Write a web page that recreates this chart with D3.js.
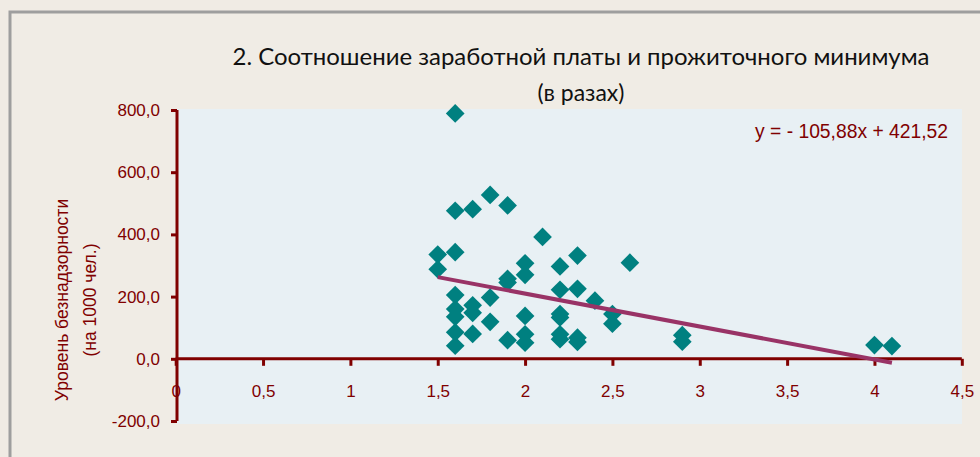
<!DOCTYPE html>
<html><head><meta charset="utf-8">
<script src="https://cdn.jsdelivr.net/npm/d3@7"></script>
<style>
html,body{margin:0;padding:0;background:#F0EBE4;}
svg{display:block;}
text{font-weight:400;}
</style></head>
<body><svg id="c" width="980" height="457"></svg>
<script>
const titleLines = ["2. Соотношение заработной платы и прожиточного минимума", "(в разах)"];
const yAxisTitle = ["Уровень безнадзорности", "(на 1000 чел.)"];
const xTicks = [0, 0.5, 1, 1.5, 2, 2.5, 3, 3.5, 4, 4.5];
const yTicks = [-200, 0, 200, 400, 600, 800];
const ratioX = [1.5,1.5, 1.6,1.6,1.6,1.6,1.6,1.6,1.6,1.6, 1.7,1.7,1.7,1.7, 1.8,1.8,1.8, 1.9,1.9,1.9,1.9,
  2.0,2.0,2.0,2.0,2.0, 2.1, 2.2,2.2,2.2,2.2,2.2,2.2, 2.3,2.3,2.3,2.3, 2.4, 2.5,2.5, 2.6, 2.9,2.9, 4.0, 4.1];
const neglectY = [335,288, 789,476,343,205,160,135,85,42, 481,172,148,80, 527,197,119, 493,257,245,60,
  307,270,138,79,52, 392, 297,222,144,133,79,63, 332,225,68,54, 187, 144,113, 309, 76,55, 44, 41];
const trendSlope = -105.88;
const trendIntercept = 421.52;
const trendRange = [1.5, 4.1];
const equationText = "y = - 105,88x + 421,52";

const svg = d3.select("#c");
const axisColor = "#800000";
const sans = "'Liberation Sans',Arial,sans-serif";

// outer frame
svg.append("rect").attr("x",10).attr("y",12).attr("width",1000).attr("height",500)
  .attr("fill","#F0ECE5").attr("stroke","#9E9E9E").attr("stroke-width",3);

const x = d3.scaleLinear().domain([0,4.5]).range([175.7,961.8]);
const y = d3.scaleLinear().domain([-200,800]).range([421,110]);

// plot background
svg.append("rect").attr("x",177).attr("y",109).attr("width",962-177).attr("height",424-109)
  .attr("fill","#E8F0F4");

// title
const t = svg.append("text").attr("text-anchor","middle").attr("font-family","Lato,'Open Sans',sans-serif")
  .attr("font-size",23).attr("fill","#111");
t.append("tspan").attr("x",581).attr("y",65).attr("textLength",697).attr("lengthAdjust","spacingAndGlyphs").text(titleLines[0]);
t.append("tspan").attr("x",581).attr("y",101).text(titleLines[1]);

// y-axis title
const yt = svg.append("text").attr("transform","translate(0,300) rotate(-90)")
  .attr("text-anchor","middle").attr("font-family",sans)
  .attr("font-size",17.5).attr("fill",axisColor);
yt.append("tspan").attr("x",0).attr("y",68).text(yAxisTitle[0]);
yt.append("tspan").attr("x",0).attr("y",96).text(yAxisTitle[1]);

const fmtY = d => d3.format(".1f")(d).replace(".",",").replace("−","-");
const fmtX = d => String(d).replace(".",",");

// y axis
const gy = svg.append("g").attr("transform","translate(177,0)")
  .call(d3.axisLeft(y).tickValues(yTicks).tickSize(6).tickPadding(11).tickFormat(fmtY));
gy.select(".domain").attr("stroke",axisColor).attr("stroke-width",3).attr("d","M0,"+y(800)+"V"+y(-200));
gy.selectAll(".tick line").attr("stroke",axisColor).attr("stroke-width",3);
gy.selectAll(".tick text").attr("fill",axisColor).attr("font-family",sans).attr("font-size",17);

// x axis at y=0
const gx = svg.append("g").attr("transform","translate(0,"+y(0)+")")
  .call(d3.axisBottom(x).tickValues(xTicks).tickSize(7).tickPadding(19).tickFormat(fmtX));
gx.select(".domain").attr("stroke",axisColor).attr("stroke-width",3).attr("d","M"+x(0)+",0H"+x(4.5));
gx.selectAll(".tick line").attr("stroke",axisColor).attr("stroke-width",3);
gx.selectAll(".tick text").attr("fill",axisColor).attr("font-family",sans).attr("font-size",17);

// points
const pts = ratioX.map((v,i)=>({x:v,y:neglectY[i]}));
svg.append("g").selectAll("path").data(pts).join("path")
  .attr("d", d3.symbol().type(d3.symbolSquare).size(175))
  .attr("transform", d=>"translate("+x(d.x)+","+y(d.y)+") rotate(45)")
  .attr("fill","#008080");

// trend line
svg.append("line")
  .attr("x1",x(trendRange[0])).attr("y1",y(trendSlope*trendRange[0]+trendIntercept))
  .attr("x2",x(trendRange[1])).attr("y2",y(trendSlope*trendRange[1]+trendIntercept))
  .attr("stroke","#993366").attr("stroke-width",4);

// equation
svg.append("text").attr("x",948).attr("y",138).attr("text-anchor","end")
  .attr("font-family",sans).attr("font-size",19.3).attr("fill",axisColor).text(equationText);
</script></body></html>
